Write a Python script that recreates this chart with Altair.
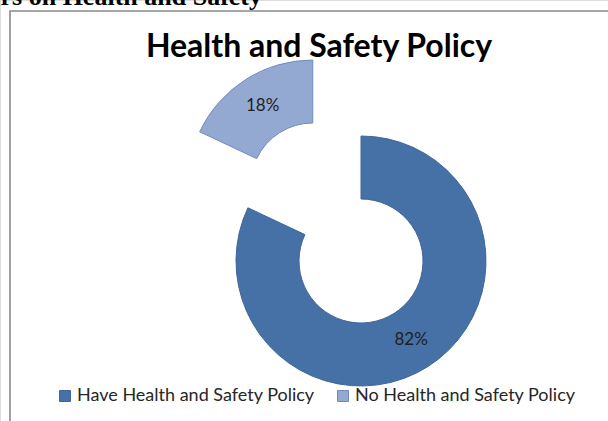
import math
import altair as alt
import pandas as pd

# ---- data ----
categories = ["Have Health and Safety Policy", "No Health and Safety Policy"]
values = [82, 18]
pct_labels = ["82%", "18%"]
colors = ["#4671A6", "#94A9D2"]
strokes = ["#3E6699", "#6F8CBE"]
exploded = "No Health and Safety Policy"

title_text = "Health and Safety Policy"
header_text = "rs on Health and Safety"

df = pd.DataFrame({"category": categories, "value": values, "label": pct_labels,
                   "order": list(range(len(categories)))})

# ---- layout ----
W, H = 608, 421
CX, CY = 361, 261
R_OUT, R_IN = 125, 62
EXPLODE = 90
FONT = "Lato"

# bisector angle of the exploded slice (clockwise from 12 o'clock)
total = sum(values)
idx = categories.index(exploded)
start = sum(values[:idx]) / total * 2 * math.pi
mid = start + values[idx] / total * math.pi
EX = CX + EXPLODE * math.sin(mid)
EY = CY - EXPLODE * math.cos(mid)

color_scale = alt.Scale(domain=categories, range=colors)
stroke_scale = alt.Scale(domain=categories, range=strokes)

legend = alt.Legend(
    title=None, orient="none", direction="horizontal", legendX=56, legendY=387,
    symbolType="square", symbolSize=121, symbolStrokeWidth=1,
    labelFont=FONT, labelFontSize=18, labelColor="#262626", labelOffset=3,
    columnPadding=19, padding=0, labelLimit=400,
)


def arc_layer(cx, cy, show):
    return alt.Chart(df).mark_arc(innerRadius=R_IN, outerRadius=R_OUT, strokeWidth=1).encode(
        theta=alt.Theta("value:Q", stack=True),
        order=alt.Order("order:Q"),
        color=alt.Color("category:N", scale=color_scale, legend=legend),
        stroke=alt.Stroke("category:N", scale=stroke_scale, legend=legend),
        opacity=alt.condition(show, alt.value(1), alt.value(0)),
        x=alt.value(cx), y=alt.value(cy),
    )


def text_layer(cx, cy, show):
    return alt.Chart(df).mark_text(
        radius=(R_IN + R_OUT) / 2, font=FONT, fontSize=17, color="#1f1f1f",
        align="center", baseline="middle",
    ).encode(
        theta=alt.Theta("value:Q", stack=True),
        order=alt.Order("order:Q"),
        text="label:N",
        opacity=alt.condition(show, alt.value(1), alt.value(0)),
        x=alt.value(cx), y=alt.value(cy),
    )


is_exp = alt.datum.category == exploded
not_exp = alt.datum.category != exploded

one = pd.DataFrame({"t": [title_text], "h": [header_text]})

border = alt.Chart(one).mark_rect(fill="white", fillOpacity=0, stroke="#8a8a8a", strokeWidth=1.6).encode(
    x=alt.value(10), y=alt.value(11), x2=alt.value(W + 40), y2=alt.value(H + 40)
)

header = alt.Chart(one).mark_text(
    font="Liberation Serif", fontWeight="bold", fontSize=26, align="right",
    baseline="alphabetic", color="#000000",
).encode(text="h:N", x=alt.value(262), y=alt.value(5))

title = alt.Chart(one).mark_text(
    font=FONT, fontWeight="bold", fontSize=32, align="center",
    baseline="alphabetic", color="#000000",
).encode(text="t:N", x=alt.value(319), y=alt.value(57))

chart = alt.layer(
    border,
    header,
    title,
    arc_layer(CX, CY, not_exp),
    arc_layer(EX, EY, is_exp),
    text_layer(CX, CY, not_exp),
    text_layer(EX, EY, is_exp),
).resolve_scale(theta="shared").properties(
    width=W, height=H, padding=0, autosize=alt.AutoSizeParams(type="none"),
).configure_view(stroke=None).configure(background="white")

chart.save("out.html", embed_options={"renderer": "svg", "actions": False})
